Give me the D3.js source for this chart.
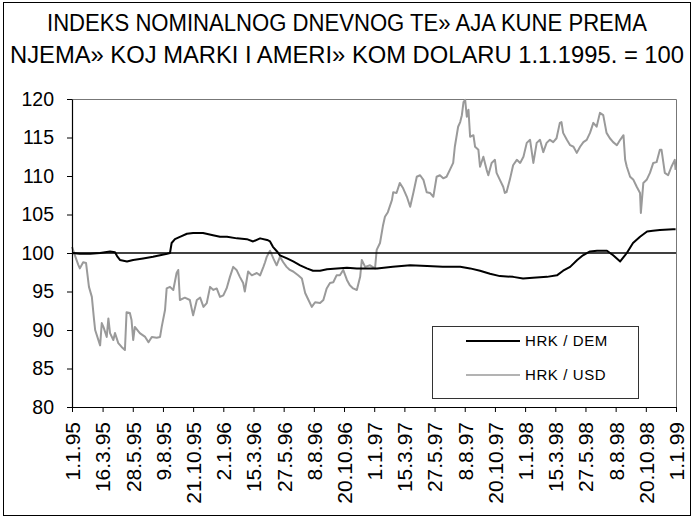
<!DOCTYPE html>
<html><head><meta charset="utf-8">
<script src="https://cdn.jsdelivr.net/npm/d3@7"></script>
<style>
body{margin:0;background:#fff}
svg{display:block}
text{font-family:"Liberation Sans",Arial,sans-serif}
</style>
</head><body>
<svg id="c" width="693" height="519"></svg>
<script>
// ---- DATA ----
const titleLines = ["INDEKS NOMINALNOG DNEVNOG TE» AJA KUNE PREMA",
                    "NJEMA» KOJ MARKI I AMERI» KOM DOLARU 1.1.1995. = 100"];
const xTickLabels = ["1.1.95","16.3.95","28.5.95","9.8.95","21.10.95","2.1.96","15.3.96","27.5.96","8.8.96","20.10.96",
  "1.1.97","15.3.97","27.5.97","8.8.97","20.10.97","1.1.98","15.3.98","27.5.98","8.8.98","20.10.98","1.1.99"];
const yTicks = [80,85,90,95,100,105,110,115,120];
const seriesNames = ["HRK / DEM","HRK / USD"];
const baseDate = "1.1.95";
const referenceValue = 100;

// days since 1.1.1995
const demDays = [0,19,44,68,92,104,109,116,133,148,172,196,213,230,237,241,249,261,278,293,317,341,358,375,399,423,438,455,472,479,486,496,503,520,535,552,568,583,600,617,641,665,689,714,738,776,818,859,897,939,963,987,1011,1035,1067,1091,1115,1149,1173,1188,1205,1222,1236,1253,1270,1294,1309,1326,1342,1357,1374,1391,1405,1422,1454,1460];
const demValues = [100.0,99.9,99.9,100.0,100.2,100.1,99.6,99.1,98.9,99.1,99.3,99.5,99.7,99.9,100.0,101.3,101.8,102.1,102.5,102.6,102.6,102.3,102.1,102.1,101.9,101.8,101.5,101.9,101.7,101.5,100.8,100.2,99.7,99.3,98.9,98.4,98.0,97.7,97.7,97.9,98.0,98.1,98.0,98.0,98.0,98.2,98.4,98.3,98.2,98.2,98.0,97.7,97.3,97.0,96.9,96.7,96.8,96.9,97.1,97.7,98.2,99.1,99.7,100.2,100.3,100.3,99.7,98.9,100.0,101.3,102.1,102.8,102.9,103.0,103.1,103.1];

const usdDays = [0,7,15,19,27,34,41,48,53,56,68,72,76,84,88,92,100,104,112,120,128,132,140,144,148,152,164,177,185,193,205,213,217,225,229,237,245,253,257,261,273,285,293,302,310,318,326,334,342,350,358,366,374,382,390,398,406,414,418,426,435,447,455,463,467,471,479,487,495,503,511,519,527,535,547,556,564,572,580,588,600,608,616,624,632,640,648,656,665,672,680,689,697,701,709,721,733,737,745,752,757,764,774,777,785,793,801,810,818,826,834,842,850,858,866,874,882,890,898,906,914,922,926,934,939,943,947,951,955,959,963,971,975,983,987,995,1003,1007,1015,1023,1027,1035,1043,1047,1051,1059,1067,1076,1084,1092,1100,1108,1116,1124,1132,1140,1148,1156,1164,1172,1180,1184,1188,1197,1205,1213,1221,1229,1237,1245,1253,1261,1269,1277,1285,1293,1301,1309,1318,1326,1334,1338,1342,1350,1358,1366,1374,1376,1382,1390,1398,1406,1414,1422,1426,1434,1442,1450,1458,1460];
const usdValues = [100.8,99.7,98.5,98.0,98.8,98.7,95.6,94.3,91.5,90.0,88.0,90.9,90.4,89.1,91.5,89.6,88.7,89.6,88.3,87.8,87.4,92.3,92.2,91.3,88.7,90.4,89.6,89.1,88.4,89.1,89.0,89.1,90.4,92.6,95.4,95.6,95.2,97.4,97.8,93.9,94.2,93.9,91.9,93.9,94.2,93.0,93.5,95.6,95.2,95.4,94.3,94.5,95.4,96.9,98.2,97.8,96.9,96.1,95.0,97.6,97.1,97.4,97.1,98.2,98.8,99.5,100.3,99.3,98.4,99.5,98.8,98.2,97.8,97.6,97.1,96.7,94.8,93.9,93.0,93.6,93.5,93.9,95.4,96.1,96.2,97.1,97.1,97.8,96.5,95.8,95.4,95.2,96.9,99.1,98.2,98.4,98.0,100.4,101.3,103.5,104.7,105.3,106.9,107.9,107.8,109.1,108.4,107.3,106.0,107.9,109.9,110.1,109.5,107.9,107.8,107.3,109.9,110.1,109.7,109.9,110.8,111.7,113.8,116.4,117.0,117.9,119.6,119.9,117.7,118.6,115.1,115.3,113.8,113.4,111.2,112.5,110.8,110.1,111.7,112.1,110.4,109.5,108.6,107.8,107.9,109.5,111.4,112.1,111.7,112.5,114.3,114.7,111.7,114.3,114.7,113.1,114.3,114.7,114.4,114.9,116.9,117.0,115.6,114.7,114.0,113.8,113.0,113.8,114.4,114.7,115.6,116.9,116.4,118.2,117.9,115.6,114.9,114.4,114.0,114.7,115.3,112.1,111.2,109.9,109.5,108.6,107.8,105.2,109.1,109.5,110.4,111.7,111.8,113.4,113.4,110.4,110.1,111.2,112.1,110.8];

// ---- CHART ----
const W = 693, H = 519;
const m = {left:72, right:676, top:99, bottom:407};
const svg = d3.select("#c");
const parse = d3.timeParse("%d.%m.%y");
const t0 = parse(baseDate);
const toDate = d => d3.timeDay.offset(t0, d);

svg.append("rect").attr("x",3.5).attr("y",2.5).attr("width",687).attr("height",513)
  .attr("fill","#fff").attr("stroke","#000").attr("stroke-width",1);

const titleLen = [600, 674];
svg.selectAll("text.title").data(titleLines).join("text").attr("class","title")
  .attr("x",347).attr("y",(d,i)=>31+i*32).attr("text-anchor","middle")
  .attr("font-size",23).attr("fill","#000")
  .attr("textLength",(d,i)=>titleLen[i]).attr("lengthAdjust","spacingAndGlyphs")
  .text(d=>d);

const tickDates = xTickLabels.map(parse);
const x = d3.scaleTime().domain([tickDates[0], tickDates[tickDates.length-1]]).range([m.left, m.right]);
const y = d3.scaleLinear().domain([80,120]).range([m.bottom, m.top]);

// plot border top/right
svg.append("path").attr("d",`M${m.left},${m.top+0.5}H${m.right+0.5}V${m.bottom}`)
  .attr("fill","none").attr("stroke","#777").attr("stroke-width",1);

const line = d3.line().x(d=>x(d[0])).y(d=>y(d[1]));
const usd = usdDays.map((d,i)=>[toDate(d), usdValues[i]]);
const dem = demDays.map((d,i)=>[toDate(d), demValues[i]]);

svg.append("path").datum(usd).attr("d",line).attr("fill","none")
  .attr("stroke","#9a9a9a").attr("stroke-width",2).attr("stroke-linejoin","round");

// reference line at 100
svg.append("line").attr("x1",m.left).attr("x2",m.right).attr("y1",y(referenceValue)).attr("y2",y(referenceValue))
  .attr("stroke","#000").attr("stroke-width",1.5);

svg.append("path").datum(dem).attr("d",line).attr("fill","none")
  .attr("stroke","#000").attr("stroke-width",2).attr("stroke-linejoin","round");

// axes
const yAxis = svg.append("g").attr("transform",`translate(${m.left},0)`)
  .call(d3.axisLeft(y).tickValues(yTicks).tickSize(5).tickPadding(13).tickSizeOuter(0));
yAxis.selectAll("text").attr("font-size",19.5).attr("font-family","Liberation Sans, Arial, sans-serif").attr("fill","#000");
yAxis.select(".domain").attr("stroke","#000").attr("stroke-width",1.2);

const xAxis = svg.append("g").attr("transform",`translate(0,${m.bottom})`)
  .call(d3.axisBottom(x).tickValues(tickDates).tickFormat((d,i)=>xTickLabels[i]).tickSize(5).tickSizeOuter(0));
xAxis.select(".domain").attr("stroke","#000").attr("stroke-width",1.2);
xAxis.selectAll("text").attr("font-size",21).attr("font-family","Liberation Sans, Arial, sans-serif").attr("fill","#000")
  .attr("text-anchor","end").attr("transform","rotate(-90)")
  .attr("x",-15).attr("y",0).attr("dy","0.35em");

// legend
const lg = svg.append("g");
lg.append("rect").attr("x",432.5).attr("y",326.5).attr("width",206).attr("height",72)
  .attr("fill","#fff").attr("stroke","#333").attr("stroke-width",1);
const legColors = ["#000","#9a9a9a"];
const legWidths = [2,1.5];
seriesNames.forEach((n,i)=>{
  const yy = 341 + i*34;
  lg.append("line").attr("x1",466).attr("x2",520).attr("y1",yy).attr("y2",yy)
    .attr("stroke",legColors[i]).attr("stroke-width",legWidths[i]);
  lg.append("text").attr("x",525).attr("y",yy+5).attr("font-size",15).attr("letter-spacing",0.6)
    .attr("fill","#000").text(n);
});
</script>
</body></html>
